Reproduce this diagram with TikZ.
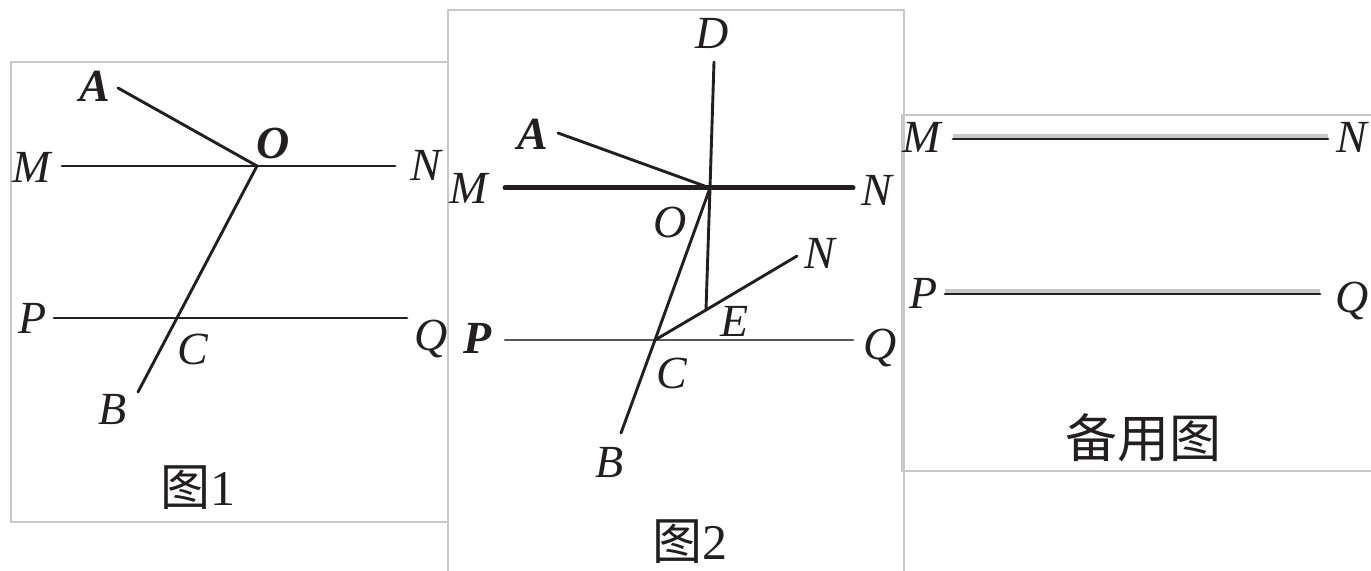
\documentclass[tikz,border=0pt]{standalone}
\usepackage{fontspec}
\setmainfont{Liberation Serif}
\newfontfamily\cjk{Noto Sans CJK SC}
\definecolor{ink}{HTML}{231F20}
\definecolor{framegray}{HTML}{C8C8C8}

\begin{document}
\begin{tikzpicture}[
    x=0.5pt, y=-0.5pt,
    frame/.style={draw=framegray, line width=0.7pt},
    seg/.style={draw=ink, line width=1.45pt, line cap=round},
    thickseg/.style={seg, line width=2.5pt},
    paleseg/.style={seg, draw=ink!75},
    halo/.style={draw=black!22, line width=2.6pt},
    ptlabel/.style={font=\fontsize{23}{26}\selectfont\itshape, text=ink, inner sep=0pt},
    ptbold/.style={ptlabel, font=\fontsize{23}{26}\selectfont\bfseries\itshape},
    figcap/.style={font=\fontsize{25}{29}\selectfont, text=ink, inner sep=0pt},
]
\useasboundingbox (0,0) rectangle (1371,571);

% Frames
\draw[frame] (11,62) rectangle (448,522);
\draw[frame] (448,571) -- (448,10) -- (904,10) -- (904,571);
\draw[frame] (1371,115) -- (902,115) -- (902,471) -- (1371,471);

% Figure 1
\coordinate (M1) at (62,166);
\coordinate (N1) at (395,166);
\coordinate (O1) at (257,166);
\coordinate (A1) at (118,88);
\coordinate (P1) at (54,318);
\coordinate (Q1) at (407,318);
\coordinate (C1) at (177,318);
\coordinate (B1) at (138,392);

\draw[seg] (M1) -- (N1);
\draw[seg] (P1) -- (Q1);
\draw[seg] (A1) -- (O1);
\draw[seg] (O1) -- (C1) -- (B1);

\node[ptbold] (lA1) at (95,86) {A};
\node[ptbold] (lO1) at (273,143) {O};
\foreach \n/\x/\y/\t in {lM1/32/167/M, lN1/426/165/N, lP1/33/318/P, lQ1/431/339/Q, lC1/193/349/C, lB1/113/410/B} {
    \node[ptlabel] (\n) at (\x,\y) {\t};
}
\node[figcap] (cap1) at (198,488) {{\cjk 图}1};

% Figure 2
\coordinate (D2) at (714,62);
\coordinate (O2) at (710,188);
\coordinate (E2) at (706,310);
\coordinate (A2) at (558,133);
\coordinate (M2) at (505,188);
\coordinate (N2) at (853,188);
\coordinate (P2) at (505,340);
\coordinate (Q2) at (853,340);
\coordinate (C2) at (655,340);
\coordinate (B2) at (621,433);
\coordinate (F2) at (797,256);

\draw[thickseg] (M2) -- (N2);
\draw[paleseg] (P2) -- (Q2);
\draw[seg] (A2) -- (O2);
\draw[seg] (D2) -- (O2) -- (E2);
\draw[seg] (O2) -- (C2) -- (B2);
\draw[seg] (C2) -- (E2) -- (F2);

\node[ptbold] (lA2) at (533,134) {A};
\node[ptbold] (lP2) at (478,338) {P};
\foreach \n/\x/\y/\t in {lD2/712/33/D, lM2/469/188/M, lN2/877/190/N, lO2/670/222/O, lF2/820/253/N, lE2/735/321/E, lQ2/880/348/Q, lC2/672/373/C, lB2/610/463/B} {
    \node[ptlabel] (\n) at (\x,\y) {\t};
}
\node[figcap] (cap2) at (690,542) {{\cjk 图}2};

% Spare figure
\coordinate (M3) at (953,139);
\coordinate (N3) at (1328,139);
\coordinate (P3) at (945,294);
\coordinate (Q3) at (1320,294);

\draw[halo] ([yshift=1pt]M3) -- ([yshift=1pt]N3);
\draw[halo] ([yshift=1pt]P3) -- ([yshift=1pt]Q3);
\draw[seg] (M3) -- (N3);
\draw[seg] (P3) -- (Q3);

\foreach \n/\x/\y/\t in {lM3/922/137/M, lN3/1352/137/N, lP3/924/293/P, lQ3/1352/301/Q} {
    \node[ptlabel] (\n) at (\x,\y) {\t};
}
\node[figcap, font=\fontsize{26}{30}\selectfont\cjk] (cap3) at (1143,438) {备用图};

\end{tikzpicture}
\end{document}
